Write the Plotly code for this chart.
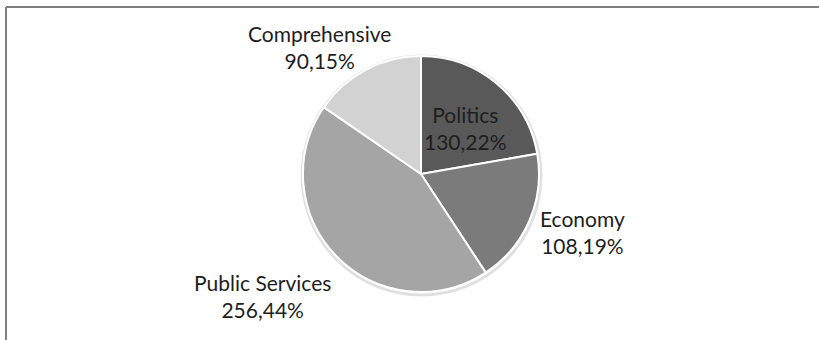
import plotly.graph_objects as go

# Category data
categories = ["Politics", "Economy", "Public Services", "Comprehensive"]
values = [130, 108, 256, 90]
percent_labels = [22, 19, 44, 15]
colors = ["#595959", "#7b7b7b", "#a5a5a5", "#d2d2d2"]

W, H = 819, 340

# label block centres in pixels (x from left, y from top)
label_pos = {
    "Politics": (465, 128),
    "Economy": (582, 232),
    "Public Services": (262, 296),
    "Comprehensive": (319, 47),
}

# pie box in pixels
cx, cy, r = 421, 174, 118

fig = go.Figure()
fig.add_trace(go.Pie(
    labels=categories,
    values=values,
    sort=False,
    direction="clockwise",
    rotation=0,
    marker=dict(colors=colors, line=dict(color="white", width=2)),
    textinfo="none",
    hoverinfo="label+value+percent",
    showlegend=False,
    domain=dict(x=[(cx - r) / W, (cx + r) / W], y=[(H - cy - r) / H, (H - cy + r) / H]),
))

annotations = []
for cat, v, p in zip(categories, values, percent_labels):
    px, py = label_pos[cat]
    annotations.append(dict(
        x=px / W, y=1 - py / H, xref="paper", yref="paper",
        text=f"{cat}<br>{v},{p}%", showarrow=False,
        font=dict(family="Lato", size=21, color="#1e1e1e"),
        align="center", xanchor="center", yanchor="middle",
    ))

shapes = [
    # soft shadow round the pie
    dict(type="circle", xref="paper", yref="paper", layer="below",
         x0=(cx - r - 1) / W, x1=(cx + r + 2) / W,
         y0=(H - cy - r - 3) / H, y1=(H - cy + r) / H,
         line=dict(color="rgba(0,0,0,0.12)", width=3)),
    # chart frame
    dict(type="line", xref="paper", yref="paper", x0=6 / W, x1=6 / W, y0=0, y1=1 - 7 / H,
         line=dict(color="#7f7f7f", width=2)),
    dict(type="line", xref="paper", yref="paper", x0=6 / W, x1=1, y0=1 - 7 / H, y1=1 - 7 / H,
         line=dict(color="#7f7f7f", width=2)),
]

fig.update_layout(
    width=W, height=H,
    margin=dict(l=0, r=0, t=0, b=0),
    paper_bgcolor="white", plot_bgcolor="white",
    annotations=annotations, shapes=shapes,
)

fig.write_html("out.html")
